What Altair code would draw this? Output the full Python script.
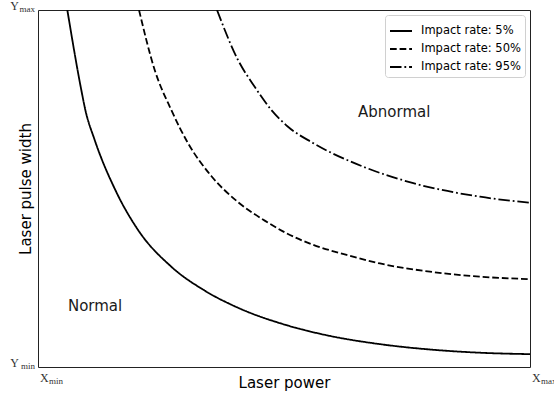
import altair as alt
import pandas as pd

series_names = ["Impact rate: 5%", "Impact rate: 50%", "Impact rate: 95%"]

# curve points (x: 0..10 = Xmin..Xmax, y: 0..10 = Ymin..Ymax)
x5 = [0.596, 0.880, 0.962, 1.152, 1.571, 2.033, 2.709, 3.388, 4.065, 5.081, 5.935, 6.951, 7.967, 8.984, 10.0]
y5 = [10.0, 7.76, 7.20, 6.36, 4.96, 3.84, 2.81, 2.14, 1.66, 1.16, 0.87, 0.64, 0.49, 0.40, 0.36]

x50 = [2.053, 2.372, 2.709, 3.049, 3.522, 4.065, 4.608, 5.047, 5.596, 6.274, 6.951, 7.967, 8.984, 10.0]
y50 = [10.0, 8.32, 7.20, 6.27, 5.35, 4.62, 4.10, 3.75, 3.42, 3.14, 2.90, 2.67, 2.53, 2.46]

x95 = [3.638, 4.065, 4.404, 4.742, 5.081, 5.596, 6.612, 7.628, 8.984, 10.0]
y95 = [10.0, 8.60, 7.85, 7.20, 6.73, 6.27, 5.61, 5.15, 4.77, 4.60]

region_labels = ["Normal", "Abnormal"]
region_x = [1.16, 7.24]
region_y = [1.71, 7.13]

tick_vals = [0, 10]
tick_subs = ["min", "max"]

rows = []
for name, xs, ys in [(series_names[0], x5, y5), (series_names[1], x50, y50), (series_names[2], x95, y95)]:
    for i, (a, b) in enumerate(zip(xs, ys)):
        rows.append({"series": name, "x": a, "y": b, "order": i})
df = pd.DataFrame(rows)

xs_scale = alt.Scale(domain=[0, 10], nice=False, zero=False)
ys_scale = alt.Scale(domain=[0, 10], nice=False, zero=False)

lines = alt.Chart(df).mark_line(color="black", strokeWidth=1.8, clip=True, interpolate="monotone").encode(
    x=alt.X("x:Q", scale=xs_scale, axis=alt.Axis(
        title="Laser power", labels=False, ticks=False, domain=False, grid=False,
        titleFont="DejaVu Sans", titleFontSize=15, titleFontWeight="normal",
        titleColor="black", titlePadding=8)),
    y=alt.Y("y:Q", scale=ys_scale, axis=alt.Axis(
        title="Laser pulse width", labels=False, ticks=False, domain=False, grid=False,
        titleFont="DejaVu Sans", titleFontSize=15, titleFontWeight="normal",
        titleColor="black", titlePadding=5)),
    strokeDash=alt.StrokeDash("series:N", scale=alt.Scale(
        domain=series_names,
        range=[[1, 0], [6.7, 2.9], [11.5, 2.9, 1.8, 2.9]]),
        legend=alt.Legend(title=None, orient="top-right", offset=5,
                          symbolType="stroke", symbolSize=484, symbolStrokeWidth=1.8,
                          symbolStrokeColor="black",
                          labelFont="DejaVu Sans", labelFontSize=11.5, labelColor="black",
                          labelOffset=8, rowPadding=0, padding=4,
                          strokeColor="#d0d0d0", fillColor="white", cornerRadius=3)),
    order="order:Q",
)

regions = alt.Chart(pd.DataFrame({"label": region_labels, "x": region_x, "y": region_y})).mark_text(
    font="DejaVu Sans", fontSize=15, color="#1a1a1a", align="center", baseline="middle"
).encode(x=alt.X("x:Q", scale=xs_scale), y=alt.Y("y:Q", scale=ys_scale), text="label:N")

ticks_df = pd.DataFrame({"v": tick_vals, "sub": tick_subs, "zero": [0, 0], "main_y": ["Y", "Y"], "main_x": ["X", "X"]})

y_main = alt.Chart(ticks_df).mark_text(
    font="Liberation Serif", fontSize=12, color="#333", align="right", baseline="alphabetic", dx=-19, dy=0
).encode(x=alt.X("zero:Q", scale=xs_scale), y=alt.Y("v:Q", scale=ys_scale), text="main_y:N")
y_sub = alt.Chart(ticks_df).mark_text(
    font="Liberation Serif", fontSize=9, color="#333", align="right", baseline="alphabetic", dx=-3, dy=2
).encode(x=alt.X("zero:Q", scale=xs_scale), y=alt.Y("v:Q", scale=ys_scale), text="sub:N")

x_main = alt.Chart(ticks_df).mark_text(
    font="Liberation Serif", fontSize=12, color="#333", align="left", baseline="alphabetic", dx=2, dy=15
).encode(x=alt.X("v:Q", scale=xs_scale), y=alt.Y("zero:Q", scale=ys_scale), text="main_x:N")
x_sub = alt.Chart(ticks_df).mark_text(
    font="Liberation Serif", fontSize=9, color="#333", align="left", baseline="alphabetic", dx=11, dy=17
).encode(x=alt.X("v:Q", scale=xs_scale), y=alt.Y("zero:Q", scale=ys_scale), text="sub:N")

chart = alt.layer(lines, regions, y_main, y_sub, x_main, x_sub).properties(
    width=492, height=357,
    autosize=alt.AutoSizeParams(type="none"),
    padding={"left": 38, "top": 10, "right": 24, "bottom": 29},
    background="white",
).configure_view(stroke="#222", strokeWidth=1)

chart.save("out.html", embed_options={"renderer": "svg", "actions": False})
